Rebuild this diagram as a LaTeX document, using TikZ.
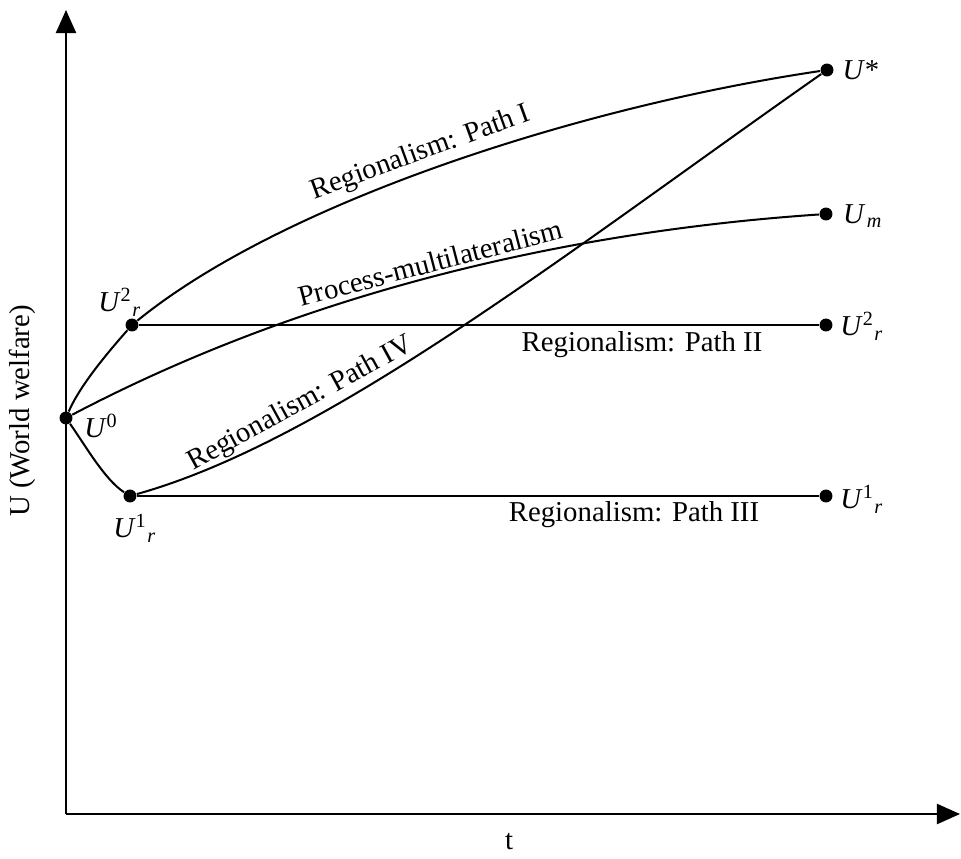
\documentclass[tikz,border=0pt]{standalone}
\usepackage{fontspec}
\setmainfont{Liberation Serif}
\usetikzlibrary{arrows.meta}

\newcommand{\ulab}[2]{\textit{U}\textsuperscript{#1}\textsubscript{\textit{#2}}}

\tikzset{
  dot/.style={circle,fill,inner sep=0pt,minimum size=4.5pt},
  curve/.style={line width=0.7pt},
  axis/.style={line width=0.6pt,-{Triangle[length=8pt,width=7pt]}},
}

\begin{document}
\begin{tikzpicture}[x=0.0122cm,y=-0.0122cm]
    \useasboundingbox (0,0) rectangle (961,858);

    % Axes
    \coordinate (o) at (66,814);
    \coordinate (ytop) at (66,10);
    \coordinate (xend) at (960,814);
    \draw[axis] (o) -- (ytop);
    \draw[axis] (o) -- (xend);
    \node[rotate=90] (ylabel) at (22,411) {U (World welfare)};
    \node (tlabel) at (509,842) {t};

    % Welfare levels
    \node[dot] (u0) at (66,418) {};
    \node[dot] (u2l) at (132,325) {};
    \node[dot] (u1l) at (130,496) {};
    \node[dot] (ustar) at (827,70) {};
    \node[dot] (um) at (826,214) {};
    \node[dot] (u2r) at (826,325) {};
    \node[dot] (u1r) at (826,496) {};

    % Level labels
    \node (lu0) at (102,428) {\ulab{0}{}};
    \node (lu2l) at (120,302) {\ulab{2}{r}};
    \node (lu1l) at (135,528) {\ulab{1}{r}};
    \node (lustar) at (861,70) {\textit{U}*};
    \node (lum) at (863,216) {\ulab{}{m}};
    \node (lu2r) at (862,326) {\ulab{2}{r}};
    \node (lu1r) at (862,499) {\ulab{1}{r}};

    % First steps from U0
    \draw[curve] (u0) .. controls (80,385) and (110,350) .. (u2l);
    \draw[curve] (u0) .. controls (85,445) and (105,480) .. (u1l);

    % Paths I and IV to U*
    \draw[curve] (u2l) .. controls (282,203) and (577,107) .. (ustar)
        node[pos=0.48, sloped, above, inner sep=1.5pt] {Regionalism: Path I};
    \draw[curve] (u1l) .. controls (330,440) and (570,250) .. (ustar)
        node[pos=0.28, sloped, above, inner sep=1.5pt] {Regionalism: Path IV};

    % Multilateral path
    \draw[curve] (u0) .. controls (300,295) and (560,232) .. (um)
        node[pos=0.5, sloped, above, inner sep=1pt] {Process-multilateralism};

    % Paths II and III
    \draw[curve] (u2l) -- (u2r);
    \draw[curve] (u1l) -- (u1r);
    \node (lpath2) at (642,345) {Regionalism: Path II};
    \node (lpath3) at (634,515) {Regionalism: Path III};
\end{tikzpicture}
\end{document}
